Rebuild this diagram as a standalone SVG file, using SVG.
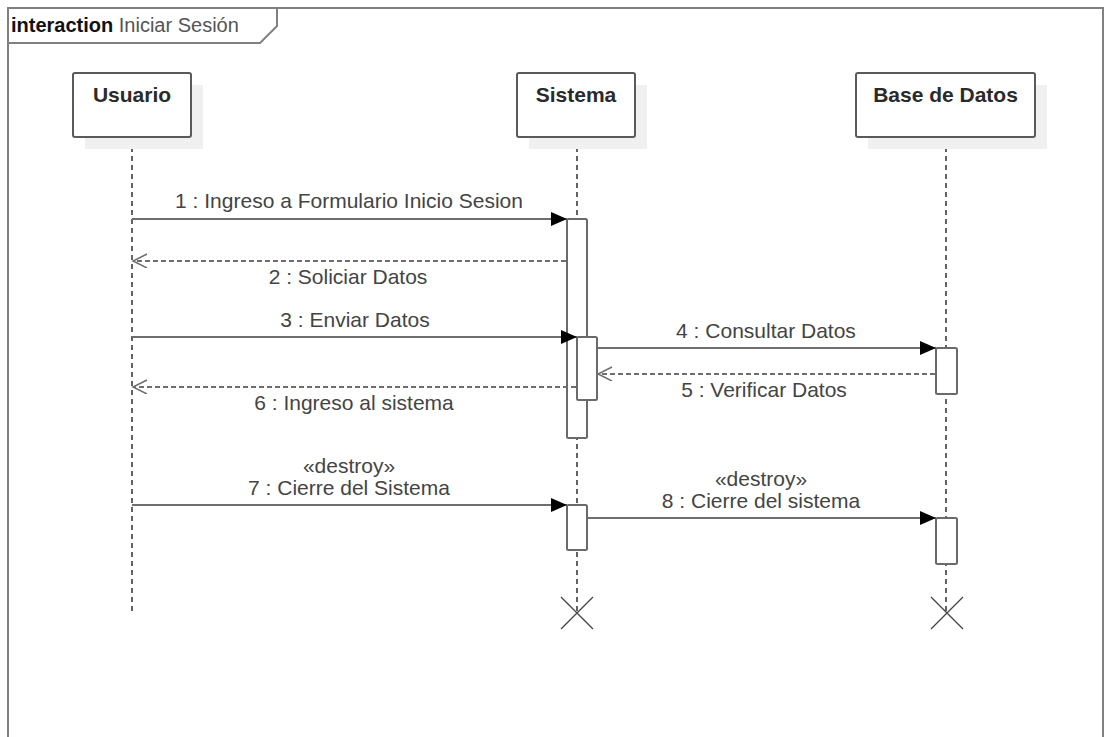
<svg xmlns="http://www.w3.org/2000/svg" width="1105" height="737" viewBox="0 0 1105 737">
<style>
  .frame{fill:none;stroke:#808080;stroke-width:2}
  .title-b{font-family:"Liberation Sans",Arial,sans-serif;font-size:20px;font-weight:bold;fill:#111}
  .title-r{font-family:"Liberation Sans",Arial,sans-serif;font-size:20px;fill:#555}
  .head{fill:#fff;stroke:#5a5a5a;stroke-width:2}
  .shadow{fill:#f0f0f0}
  .hname{font-family:"Liberation Sans",Arial,sans-serif;font-size:21px;font-weight:bold;fill:#2a2a2a;text-anchor:middle}
  .life{stroke:#111;stroke-width:1.3;stroke-dasharray:5 4;fill:none}
  .act{fill:#fff;stroke:#6a6a6a;stroke-width:2}
  .msg{stroke:#6e6e6e;stroke-width:2;fill:none}
  .ret{stroke:#6e6e6e;stroke-width:2;stroke-dasharray:5 3;fill:none}
  .lbl{font-family:"Liberation Sans",Arial,sans-serif;font-size:21px;fill:#444;text-anchor:middle}
  .x{stroke:#444;stroke-width:1.3}
</style>
<defs>
  <marker id="fill" markerUnits="userSpaceOnUse" markerWidth="18" markerHeight="16" refX="16" refY="7" orient="auto" viewBox="0 0 18 16">
    <path d="M0,0 L16,7 L0,14 z" fill="#000"/>
  </marker>
  <marker id="open" markerUnits="userSpaceOnUse" markerWidth="18" markerHeight="16" refX="15" refY="7" orient="auto" viewBox="0 0 18 16">
    <path d="M1,0 L15,7 L1,14" fill="none" stroke="#6e6e6e" stroke-width="1.5"/>
  </marker>
</defs>

<g id="frame">
  <path class="frame" d="M8,740 V8 H1103 V740"/>
  <path class="frame" d="M8,43 H260 L277,26 V8"/>
  <text x="11" y="32" class="title-b">interaction <tspan class="title-r" font-weight="normal">Iniciar Sesión</tspan></text>
</g>

<g id="lifelines">
  <line class="life" x1="132" y1="138" x2="132" y2="612"/>
  <line class="life" x1="577" y1="138" x2="577" y2="613"/>
  <line class="life" x1="946" y1="138" x2="946" y2="613"/>
</g>

<g id="usuario">
  <rect class="shadow" x="85" y="85" width="118" height="64"/>
  <rect class="head" x="73" y="73" width="118" height="64" rx="2"/>
  <text class="hname" x="132" y="102">Usuario</text>
</g>
<g id="sistema">
  <rect class="shadow" x="529" y="85" width="118" height="64"/>
  <rect class="head" x="517" y="73" width="118" height="64" rx="2"/>
  <text class="hname" x="576" y="102">Sistema</text>
</g>
<g id="base-de-datos">
  <rect class="shadow" x="868" y="85" width="179" height="64"/>
  <rect class="head" x="856" y="73" width="179" height="64" rx="2"/>
  <text class="hname" x="945.5" y="102">Base de Datos</text>
</g>

<g id="activations">
  <rect class="act" x="567" y="219" width="20" height="219" rx="1.5"/>
  <rect class="act" x="577" y="337" width="20" height="63" rx="1.5"/>
  <rect class="act" x="936" y="348" width="21" height="46" rx="1.5"/>
  <rect class="act" x="567" y="505" width="20" height="45" rx="1.5"/>
  <rect class="act" x="936" y="518" width="21" height="46" rx="1.5"/>
</g>

<g id="destructions">
  <path class="x" d="M561,597 L593,629 M593,597 L561,629"/>
  <path class="x" d="M931,597 L963,629 M963,597 L931,629"/>
</g>

<g id="connectors">
  <line class="msg" x1="132" y1="219" x2="567" y2="219" marker-end="url(#fill)"/>
  <text class="lbl" x="349" y="208">1 : Ingreso a Formulario Inicio Sesion</text>

  <line class="ret" x1="566" y1="261" x2="133" y2="261" marker-end="url(#open)"/>
  <text class="lbl" x="348" y="284">2 : Soliciar Datos</text>

  <line class="msg" x1="132" y1="337" x2="577" y2="337" marker-end="url(#fill)"/>
  <text class="lbl" x="355" y="327">3 : Enviar Datos</text>

  <line class="msg" x1="597" y1="348" x2="936" y2="348" marker-end="url(#fill)"/>
  <text class="lbl" x="766" y="338">4 : Consultar Datos</text>

  <line class="ret" x1="935" y1="374" x2="598" y2="374" marker-end="url(#open)"/>
  <text class="lbl" x="764" y="397">5 : Verificar Datos</text>

  <line class="ret" x1="576" y1="387" x2="133" y2="387" marker-end="url(#open)"/>
  <text class="lbl" x="354" y="410">6 : Ingreso al sistema</text>

  <line class="msg" x1="132" y1="505" x2="567" y2="505" marker-end="url(#fill)"/>
  <text class="lbl" x="349" y="473">«destroy»</text>
  <text class="lbl" x="349" y="495">7 : Cierre del Sistema</text>

  <line class="msg" x1="587" y1="518" x2="936" y2="518" marker-end="url(#fill)"/>
  <text class="lbl" x="761" y="486">«destroy»</text>
  <text class="lbl" x="761" y="508">8 : Cierre del sistema</text>
</g>
</svg>
